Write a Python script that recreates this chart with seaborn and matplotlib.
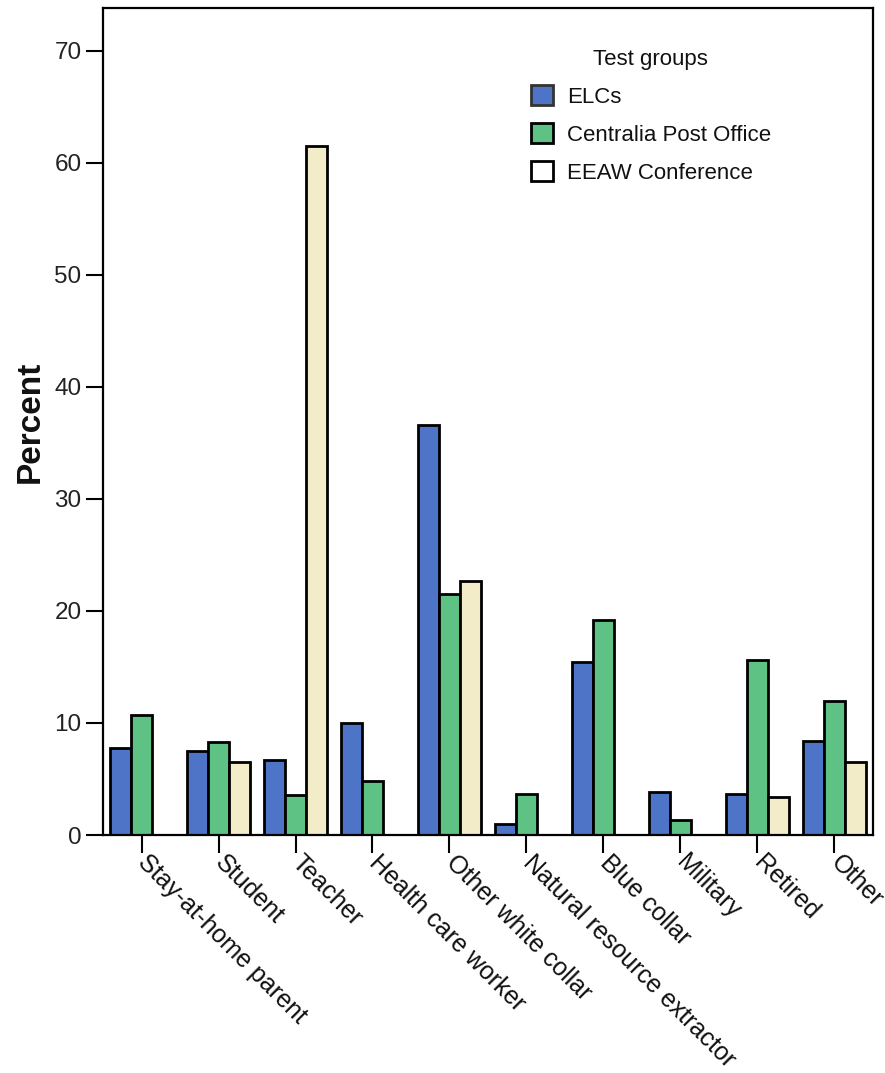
import pandas as pd
import seaborn as sns
import matplotlib.pyplot as plt
from matplotlib.patches import Patch

# Occupations on the x axis
occupations = ['Stay-at-home parent', 'Student', 'Teacher', 'Health care worker',
               'Other white collar', 'Natural resource extractor', 'Blue collar',
               'Military', 'Retired', 'Other']

groups = ['ELCs', 'Centralia Post Office', 'EEAW Conference']

# Percent values
elcs = [7.8, 7.5, 6.7, 10.0, 36.6, 1.0, 15.4, 3.8, 3.7, 8.4]
centralia = [10.7, 8.3, 3.6, 4.8, 21.5, 3.7, 19.2, 1.3, 15.6, 12.0]
eeaw = [0.0, 6.5, 61.5, 0.0, 22.7, 0.0, 0.0, 0.0, 3.4, 6.5]

colors = ['#4d74c6', '#5ec285', '#f3ecc8']

# Long format for seaborn
rows = []
for g, vals in zip(groups, [elcs, centralia, eeaw]):
    for occ, v in zip(occupations, vals):
        rows.append({'occupation': occ, 'group': g, 'percent': v})
df = pd.DataFrame(rows)

sns.set_style('white')
plt.rcParams['font.family'] = ['Liberation Sans', 'DejaVu Sans']
plt.rcParams['text.color'] = '#111111'
plt.rcParams['xtick.color'] = 'black'
plt.rcParams['ytick.color'] = 'black'
plt.rcParams['axes.labelcolor'] = '#111111'

fig = plt.figure(figsize=(8.85, 10.73), dpi=100)
ax = fig.add_axes([0.1164, 0.2218, 0.87, 0.7707])

sns.barplot(data=df, x='occupation', y='percent', hue='group', order=occupations,
            hue_order=groups, palette=colors, width=0.83, edgecolor='black',
            linewidth=2, saturation=1, ax=ax)

ax.set_ylim(0, 73.8)
ax.set_yticks(range(0, 71, 10))
ax.set_xlim(-0.5, len(occupations) - 0.5)
ax.set_xlabel('')
ax.set_ylabel('Percent', fontsize=24, fontweight='bold', labelpad=6)

ax.tick_params(axis='y', direction='out', length=12, width=1.5, labelsize=17.5, left=True,
               labelcolor='#222222')
ax.tick_params(axis='x', direction='out', length=13, width=1.5, labelsize=18, bottom=True,
               labelcolor='#111111', pad=4)
# the last label runs off the right edge, same as the original figure
plt.setp(ax.get_xticklabels(), rotation=-45, ha='left', va='center', rotation_mode='anchor')

for s in ax.spines.values():
    s.set_linewidth(1.6)
    s.set_color('black')

# Legend with white box for the last group, as in the original
handles = [Patch(facecolor=colors[0], edgecolor='#333333', linewidth=2),
           Patch(facecolor=colors[1], edgecolor='black', linewidth=2),
           Patch(facecolor='white', edgecolor='black', linewidth=2)]
ax.legend(handles, groups, title='Test groups', loc='upper left',
          bbox_to_anchor=(0.53, 0.975), frameon=False, fontsize=16,
          title_fontsize=16, handlelength=1.0, handleheight=1.0,
          labelspacing=0.7, handletextpad=0.6)

fig.savefig('out.png', dpi=100)
